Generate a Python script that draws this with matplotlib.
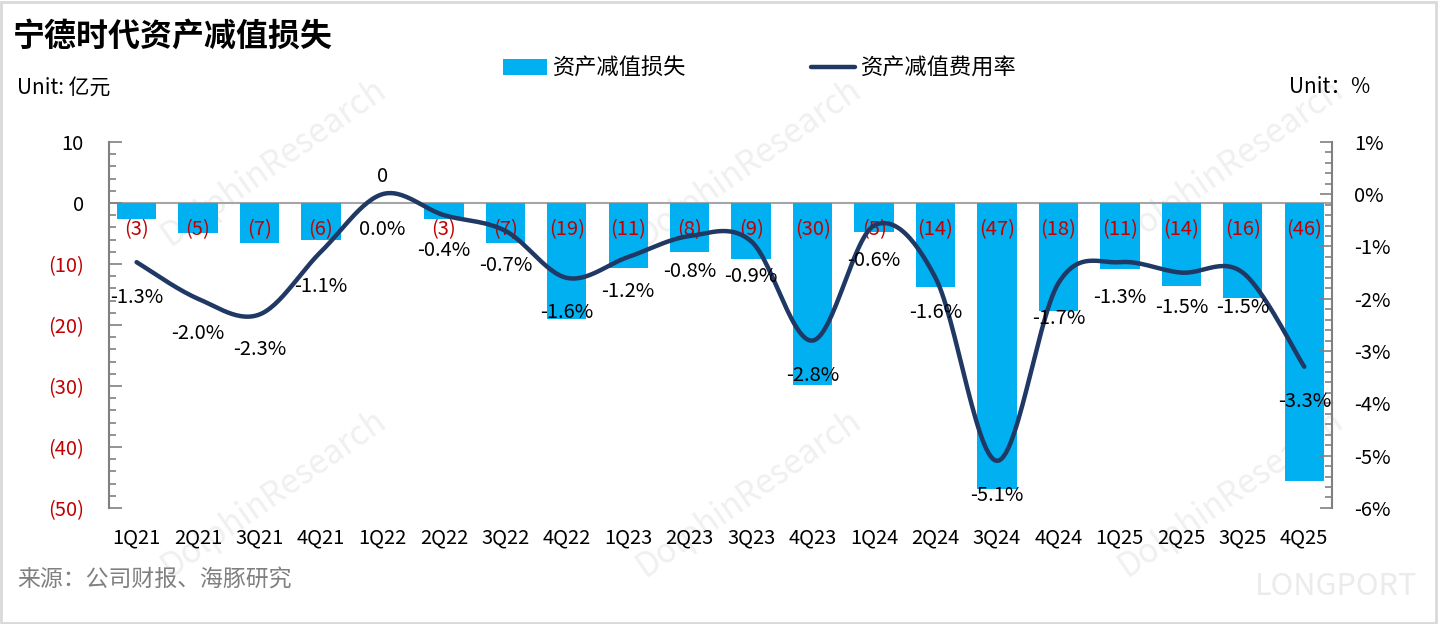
import numpy as np
import matplotlib.pyplot as plt
from matplotlib.patches import Rectangle

plt.rcParams['font.family'] = ['Noto Sans CJK SC', 'DejaVu Sans']

quarters = ['1Q21', '2Q21', '3Q21', '4Q21', '1Q22', '2Q22', '3Q22', '4Q22', '1Q23', '2Q23',
            '3Q23', '4Q23', '1Q24', '2Q24', '3Q24', '4Q24', '1Q25', '2Q25', '3Q25', '4Q25']
# 资产减值损失 (亿元)
impairment = [-2.6, -4.9, -6.6, -6.1, 0.0, -2.6, -6.6, -19.0, -10.7, -8.0,
              -9.2, -29.8, -4.8, -13.8, -46.9, -17.7, -10.8, -13.6, -15.6, -45.6]
# 资产减值费用率 (%)
ratio = [-1.3, -2.0, -2.3, -1.1, 0.0, -0.4, -0.7, -1.6, -1.2, -0.8,
         -0.9, -2.8, -0.6, -1.6, -5.1, -1.7, -1.3, -1.5, -1.5, -3.3]

left_ticks = [10, 0, -10, -20, -30, -40, -50]
left_labels = ['10', '0', '(10)', '(20)', '(30)', '(40)', '(50)']
right_ticks = [1, 0, -1, -2, -3, -4, -5, -6]

BAR = '#00B0F0'
LINE = '#1F3864'
RED = '#C00000'
GREY = '#808080'


def smooth(xs, ys, n=30):
    # excel-like smoothed line (catmull-rom through the points)
    xs = np.asarray(xs, float)
    ys = np.asarray(ys, float)
    px = np.concatenate([[xs[0]], xs, [xs[-1]]])
    py = np.concatenate([[ys[0]], ys, [ys[-1]]])
    outx, outy = [], []
    for i in range(1, len(px) - 2):
        t = np.linspace(0, 1, n)
        for p, out in ((px, outx), (py, outy)):
            p0, p1, p2, p3 = p[i - 1], p[i], p[i + 1], p[i + 2]
            c1 = p1 + (p2 - p0) / 6
            c2 = p2 - (p3 - p1) / 6
            out.extend((1 - t) ** 3 * p1 + 3 * (1 - t) ** 2 * t * c1 + 3 * (1 - t) * t ** 2 * c2 + t ** 3 * p2)
    return np.array(outx), np.array(outy)


fig = plt.figure(figsize=(14.39, 6.24), dpi=100)
fig.patches.append(Rectangle((0.001, 0.002), 0.997, 0.995, transform=fig.transFigure,
                             fill=False, edgecolor='#d9d9d9', linewidth=2))

# watermarks (behind everything)
for wx, wy in [(0.19, 0.74), (0.52, 0.74), (0.855, 0.74), (0.19, 0.21), (0.52, 0.21), (0.855, 0.21)]:
    fig.text(wx, wy, 'DolphinResearch', fontsize=24, color='#f0f0f0', rotation=35,
             ha='center', va='center', zorder=-5)
fig.text(0.985, 0.06, 'LONGPORT', fontsize=22, color='#ebebeb', ha='right', va='center', zorder=-5)

ax = fig.add_axes([0.0757, 0.186, 0.8499, 0.5866])
ax.set_facecolor('none')
x = np.arange(len(quarters))
ax.bar(x, impairment, width=0.64, color=BAR, zorder=2, label='资产减值损失')
ax.axhline(0, color='#a6a6a6', linewidth=1.5, zorder=1)
ax.set_xlim(-0.45, len(quarters) - 0.55)
ax.set_ylim(-50, 10)
ax.set_yticks(left_ticks)
ax.set_yticklabels(left_labels)
ax.set_yticks(np.arange(-50, 11, 2), minor=True)
for lab, v in zip(ax.get_yticklabels(), left_ticks):
    lab.set_color(RED if v < 0 else 'black')
ax.tick_params(axis='y', which='major', direction='in', length=9, width=1.2, color=GREY,
               labelsize=14.5, pad=18)
ax.tick_params(axis='y', which='minor', direction='in', length=5, width=1.2, color=GREY)
ax.set_xticks(x)
ax.set_xticklabels(quarters)
ax.tick_params(axis='x', length=0, labelsize=14.5, pad=14)
for s in ['top', 'right', 'bottom']:
    ax.spines[s].set_visible(False)
ax.spines['left'].set_color(GREY)
ax.spines['left'].set_linewidth(1.5)

for i, v in enumerate(impairment):
    if v == 0:
        ax.annotate('0', (i, 0), xytext=(0, 26), textcoords='offset pixels',
                    ha='center', va='center', fontsize=14.5, color='black', zorder=5)
    else:
        ax.annotate('(%d)' % round(abs(v)), (i, 0), xytext=(0, -27), textcoords='offset pixels',
                    ha='center', va='center', fontsize=14.5, color=RED, zorder=5)

ax2 = ax.twinx()
ax2.set_ylim(-6, 1)
sx, sy = smooth(x, ratio)
ax2.plot(sx, sy, color=LINE, linewidth=3.2, solid_capstyle='round', zorder=3, label='资产减值费用率')
ax2.set_yticks(right_ticks)
ax2.set_yticklabels(['%d%%' % v for v in right_ticks])
ax2.set_yticks(np.arange(-6, 1.01, 0.2), minor=True)
ax2.tick_params(axis='y', which='major', direction='in', length=9, width=1.2, color=GREY,
                labelsize=14.5, pad=16)
ax2.tick_params(axis='y', which='minor', direction='in', length=5, width=1.2, color=GREY)
for s in ['top', 'left', 'bottom']:
    ax2.spines[s].set_visible(False)
ax2.spines['right'].set_color(GREY)
ax2.spines['right'].set_linewidth(1.5)

for i, v in enumerate(ratio):
    ax2.annotate('%.1f%%' % v, (i, v), xytext=(0, -35), textcoords='offset pixels',
                 ha='center', va='center', fontsize=14.5, color='black', zorder=6)

h1, l1 = ax.get_legend_handles_labels()
h2, l2 = ax2.get_legend_handles_labels()
fig.legend(h1 + h2, l1 + l2, loc='center', bbox_to_anchor=(0.528, 0.891), ncol=2, frameon=False,
           fontsize=16, handlelength=2.0, handleheight=0.7, columnspacing=5.6, handletextpad=0.25)

fig.text(0.009, 0.942, '宁德时代资产减值损失', fontsize=23, fontweight='bold', ha='left', va='center')
fig.text(0.012, 0.86, 'Unit: 亿元', fontsize=15, ha='left', va='center')
fig.text(0.952, 0.86, 'Unit：%', fontsize=15, ha='right', va='center')
fig.text(0.012, 0.07, '来源：公司财报、海豚研究', fontsize=16.5, color='#808080', ha='left', va='center')

fig.savefig('out.png', dpi=100)
